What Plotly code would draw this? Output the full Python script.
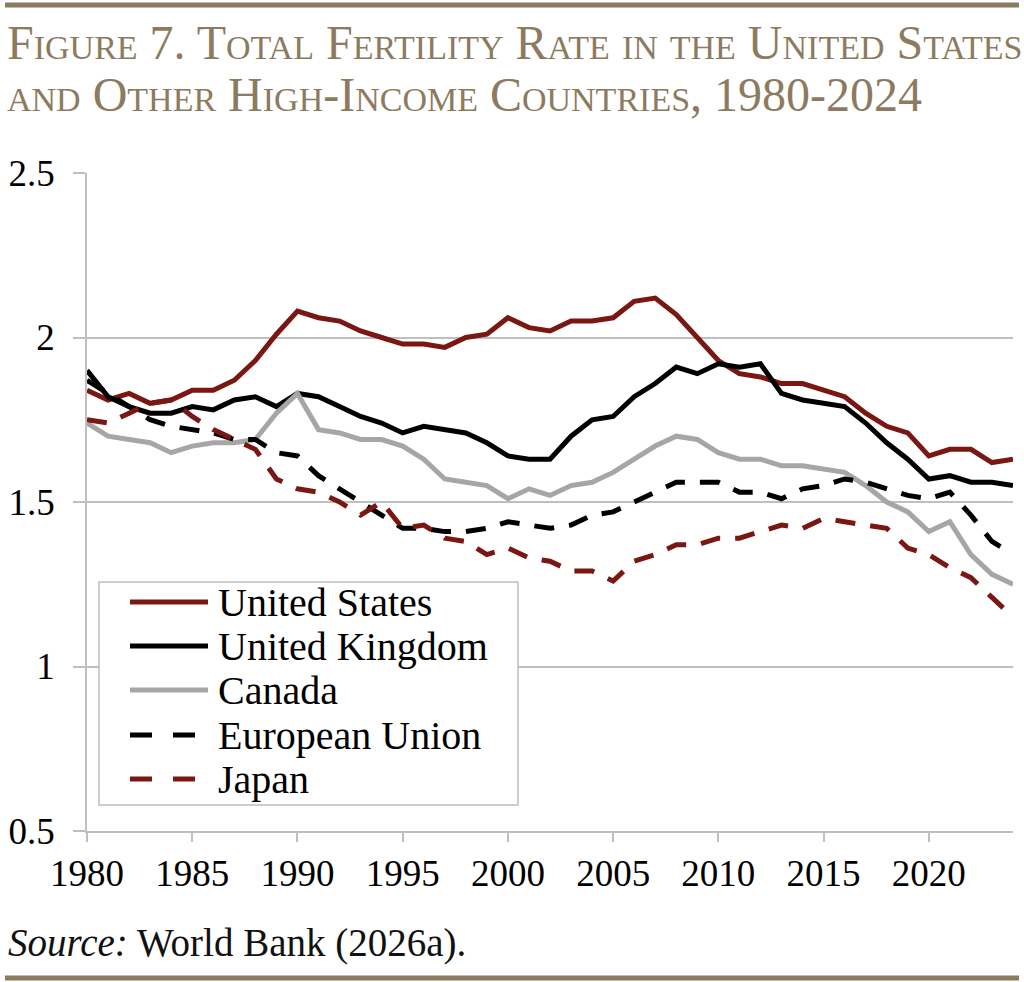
import plotly.graph_objects as go

years = list(range(1980, 2025))

us = [1.84, 1.81, 1.83, 1.80, 1.81, 1.84, 1.84, 1.87, 1.93, 2.01,
      2.08, 2.06, 2.05, 2.02, 2.00, 1.98, 1.98, 1.97, 2.00, 2.01,
      2.06, 2.03, 2.02, 2.05, 2.05, 2.06, 2.11, 2.12, 2.07, 2.00,
      1.93, 1.89, 1.88, 1.86, 1.86, 1.84, 1.82, 1.77, 1.73, 1.71,
      1.64, 1.66, 1.66, 1.62, 1.63]
uk = [1.90, 1.82, 1.79, 1.77, 1.77, 1.79, 1.78, 1.81, 1.82, 1.79,
      1.83, 1.82, 1.79, 1.76, 1.74, 1.71, 1.73, 1.72, 1.71, 1.68,
      1.64, 1.63, 1.63, 1.70, 1.75, 1.76, 1.82, 1.86, 1.91, 1.89,
      1.92, 1.91, 1.92, 1.83, 1.81, 1.80, 1.79, 1.74, 1.68, 1.63,
      1.57, 1.58, 1.56, 1.56, 1.55]
canada = [1.74, 1.70, 1.69, 1.68, 1.65, 1.67, 1.68, 1.68, 1.69, 1.77,
          1.83, 1.72, 1.71, 1.69, 1.69, 1.67, 1.63, 1.57, 1.56, 1.55,
          1.51, 1.54, 1.52, 1.55, 1.56, 1.59, 1.63, 1.67, 1.70, 1.69,
          1.65, 1.63, 1.63, 1.61, 1.61, 1.60, 1.59, 1.55, 1.50, 1.47,
          1.41, 1.44, 1.34, 1.28, 1.25]
eu = [1.87, 1.83, 1.79, 1.75, 1.73, 1.72, 1.71, 1.69, 1.69, 1.65,
      1.64, 1.58, 1.54, 1.50, 1.46, 1.42, 1.42, 1.41, 1.41, 1.42,
      1.44, 1.43, 1.42, 1.43, 1.46, 1.47, 1.50, 1.53, 1.56, 1.56,
      1.56, 1.53, 1.53, 1.51, 1.54, 1.55, 1.57, 1.56, 1.54, 1.52,
      1.51, 1.53, 1.46, 1.38, 1.34]
japan = [1.75, 1.74, 1.77, 1.80, 1.81, 1.76, 1.72, 1.69, 1.66, 1.57,
         1.54, 1.53, 1.50, 1.46, 1.50, 1.42, 1.43, 1.39, 1.38, 1.34,
         1.36, 1.33, 1.32, 1.29, 1.29, 1.26, 1.32, 1.34, 1.37, 1.37,
         1.39, 1.39, 1.41, 1.43, 1.42, 1.45, 1.44, 1.43, 1.42, 1.36,
         1.34, 1.30, 1.27, 1.21, 1.15]

names = ["United States", "United Kingdom", "Canada", "European Union", "Japan"]
colors = ["#7a1712", "#000000", "#a6a6a6", "#000000", "#7a1712"]
dashes = ["solid", "solid", "solid", "20px,15px", "20px,15px"]
series = [us, uk, canada, eu, japan]

title_lines = ["Figure 7. Total Fertility Rate in the United States",
               "and Other High-Income Countries, 1980-2024"]

SERIF = "Liberation Serif"
GOLD = "#8c7b5e"
GRID = "#bfbfbf"

fig = go.Figure()
for name, vals, col, dsh in zip(names, series, colors, dashes):
    fig.add_trace(go.Scatter(x=years, y=vals, name=name, mode="lines",
                             line=dict(color=col, width=5, dash=dsh),
                             showlegend=False))

# plot area in pixels: left 87, right 1013, top 173, bottom 831
def px_x(p):
    return (p - 87) / 926.0


def px_y(p):
    return (831 - p) / 658.0


shapes = [
    dict(type="line", xref="paper", yref="paper", x0=px_x(5), x1=px_x(1019),
         y0=px_y(5), y1=px_y(5), line=dict(color=GOLD, width=5)),
    dict(type="line", xref="paper", yref="paper", x0=px_x(5), x1=px_x(1019),
         y0=px_y(978), y1=px_y(978), line=dict(color=GOLD, width=5)),
    # legend box
    dict(type="rect", xref="paper", yref="paper", x0=px_x(99), x1=px_x(518),
         y0=px_y(805), y1=px_y(582), line=dict(color=GRID, width=1.5),
         fillcolor="white", layer="above"),
]
annotations = []
for line_text, mid in zip(title_lines, [43, 94]):
    annotations.append(dict(xref="paper", yref="paper", x=px_x(5), y=px_y(mid),
                            xanchor="left", yanchor="middle", showarrow=False,
                            text=line_text,
                            font=dict(family=SERIF, size=48, color=GOLD,
                                      variant="small-caps")))
annotations.append(dict(xref="paper", yref="paper", x=px_x(6), y=px_y(943),
                        xanchor="left", yanchor="middle", showarrow=False,
                        text="<i>Source:</i> World Bank (2026a).",
                        font=dict(family=SERIF, size=39, color="#111111")))

row_y = [602, 646, 690, 735, 779]
for name, col, dsh, ry in zip(names, colors, dashes, row_y):
    if dsh == "solid":
        shapes.append(dict(type="line", xref="paper", yref="paper", x0=px_x(130), x1=px_x(208),
                           y0=px_y(ry), y1=px_y(ry), line=dict(color=col, width=5),
                           layer="above"))
    else:
        for a, b in [(130, 152), (173, 195)]:
            shapes.append(dict(type="line", xref="paper", yref="paper", x0=px_x(a), x1=px_x(b),
                               y0=px_y(ry), y1=px_y(ry), line=dict(color=col, width=5),
                               layer="above"))
    annotations.append(dict(xref="paper", yref="paper", x=px_x(216), y=px_y(ry),
                            xanchor="left", yanchor="middle", showarrow=False, text=name,
                            font=dict(family=SERIF, size=40, color="#000000")))

fig.update_layout(
    width=1024, height=982,
    margin=dict(l=87, r=11, t=173, b=151),
    paper_bgcolor="white", plot_bgcolor="white",
    shapes=shapes, annotations=annotations,
    xaxis=dict(range=[1980, 2024], tickvals=list(range(1980, 2021, 5)),
               showgrid=False, showline=True, linecolor=GRID, linewidth=1.5,
               ticks="outside", ticklen=9, tickcolor=GRID, tickwidth=1.5,
               tickfont=dict(family=SERIF, size=37, color="#000000"),
               ticklabelstandoff=0, zeroline=False, automargin=False),
    yaxis=dict(range=[0.5, 2.5], tickvals=[0.5, 1, 1.5, 2, 2.5],
               showgrid=True, gridcolor=GRID, gridwidth=1.5,
               showline=True, linecolor=GRID, linewidth=1.5,
               ticks="outside", ticklen=12, tickcolor=GRID, tickwidth=1.5,
               tickfont=dict(family=SERIF, size=37, color="#000000"),
               ticklabelstandoff=11, zeroline=False, automargin=False),
)

fig.write_html("out.html", config={"displayModeBar": False},
               post_script="document.body.style.margin='0px';")
